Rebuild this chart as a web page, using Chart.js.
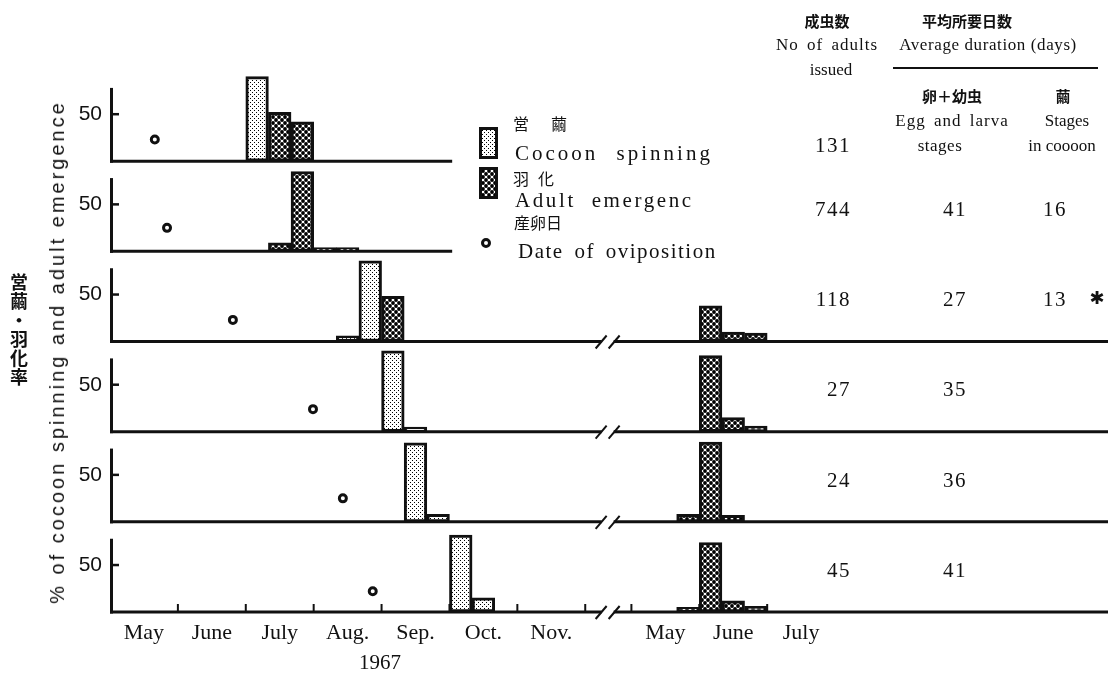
<!DOCTYPE html>
<html>
<head>
<meta charset="utf-8">
<script src="https://cdn.jsdelivr.net/npm/chart.js@4.4.1/dist/chart.umd.min.js"></script>
<style>
  body { margin: 0; background: #fff; }
  #wrap { position: relative; width: 1115px; height: 677px; overflow: hidden; }
  #chart { position: absolute; left: 0; top: 0; }
  .t { position: absolute; white-space: nowrap; color: #111; line-height: 1;
       font-family: "Liberation Serif", "DejaVu Serif", serif; font-size: 17px;
       transform: translate(-50%, -50%); }
  .l { transform: translateY(-50%); font-size: 21px; letter-spacing: 1.5px; }
  .r { transform: translate(-100%, -50%); }
  .jp { font-family: "Noto Sans CJK JP", sans-serif; font-weight: 700; font-size: 15px; }
  .num { font-size: 21px; letter-spacing: 1.5px; }
  .mark { font-family: "DejaVu Sans", sans-serif; font-weight: 700; font-size: 18px; }
</style>
</head>
<body>
<div id="wrap">
  <canvas id="chart" width="1115" height="677"></canvas>

  <!-- axis titles -->
  <div class="t" style="left:57px;top:352px;font-family:'Liberation Sans',sans-serif;font-size:20px;letter-spacing:3px;transform:translate(-50%,-50%) rotate(-90deg)">% of cocoon spinning and adult emergence</div>
  <div class="t jp" style="left:19px;top:330px;font-size:18px;writing-mode:vertical-rl;letter-spacing:1px">営繭・羽化率</div>
  <div class="t" style="left:380px;top:662px;font-size:21px">1967</div>

  <!-- legend -->
  <div class="t jp l" style="left:513px;top:123px;font-size:16px;font-weight:400;letter-spacing:0">営<span style="margin-left:22px">繭</span></div>
  <div class="t l" style="left:515px;top:153px;letter-spacing:3px;word-spacing:10px">Cocoon spinning</div>
  <div class="t jp l" style="left:513px;top:178px;font-size:16px;font-weight:400;letter-spacing:0">羽<span style="margin-left:9px">化</span></div>
  <div class="t l" style="left:515px;top:200px;letter-spacing:2.6px;word-spacing:8px">Adult emergenc</div>
  <div class="t jp l" style="left:514px;top:222px;font-size:16px;font-weight:400;letter-spacing:0">産卵日</div>
  <div class="t l" style="left:518px;top:251px;word-spacing:4px">Date of oviposition</div>

  <!-- table header -->
  <div class="t jp" style="left:827px;top:20px">成虫数</div>
  <div class="t" style="left:827px;top:44px;letter-spacing:1px;word-spacing:3px">No of adults</div>
  <div class="t" style="left:831px;top:69px">issued</div>
  <div class="t jp" style="left:967px;top:20px">平均所要日数</div>
  <div class="t" style="left:988px;top:44px;letter-spacing:0.6px">Average duration (days)</div>
  <div style="position:absolute;left:893px;top:67px;width:205px;height:1.5px;background:#111"></div>
  <div class="t jp" style="left:952px;top:95px">卵＋幼虫</div>
  <div class="t jp" style="left:1063px;top:95px">繭</div>
  <div class="t" style="left:952px;top:120px;letter-spacing:1px;word-spacing:3px">Egg and larva</div>
  <div class="t" style="left:1067px;top:120px">Stages</div>
  <div class="t" style="left:940px;top:145px;letter-spacing:0.5px">stages</div>
  <div class="t" style="left:1062px;top:145px">in coooon</div>
</div>

<script>
// ================= DATA =================
const monthsFirstYear = ['May', 'June', 'July', 'Aug.', 'Sep.', 'Oct.', 'Nov.'];
const monthsNextYear = ['May', 'June', 'July'];
const NEXT_MAY = 7.68;   // x of next year's 1 May, after the axis break
const BREAK_AT = 7.33;

// one list per row: [month index from May, ten-day period 0-2, %]
const cocoonSpinning = [
    [[2, 0, 90]],
    [],
    [[3, 1, 6], [3, 2, 86]],
    [[4, 0, 86], [4, 1, 5]],
    [[4, 1, 84], [4, 2, 8]],
    [[5, 0, 82], [5, 1, 15]]
];
const adultEmergence = [
    [[2, 1, 52], [2, 2, 42]],
    [[2, 1, 9], [2, 2, 85], [3, 0, 4], [3, 1, 4]],
    [[4, 0, 48]],
    [],
    [],
    []
];
const adultEmergenceNextYear = [
    [],
    [],
    [[1, 0, 38], [1, 1, 10], [1, 2, 9]],
    [[1, 0, 81], [1, 1, 15], [1, 2, 6]],
    [[0, 2, 8], [1, 0, 85], [1, 1, 7]],
    [[0, 2, 5], [1, 0, 74], [1, 1, 12], [1, 2, 6]]
];
const ovipositionDate = [0.66, 0.84, 1.81, 2.99, 3.43, 3.87];   // months after 1 May
const ovipositionLevel = [23, 25, 23, 24, 25, 22];

const adultsIssued = [131, 744, 118, 27, 24, 45];
const eggLarvaDays = [null, 41, 27, 35, 36, 41];
const cocoonDays = [null, 16, 13, null, null, null];
const noteMark = [null, null, '✱', null, null, null];

const ROWS = 6;
const Y_MAX = 96;
const AXIS_TOP = 78;

// ================= HELPERS =================
const toPoints = (bins, offset) =>
    bins.map(([m, d, v]) => ({ x: offset + m + (d + 0.5) / 3, y: v }));

function makePattern(size, draw) {
    const c = document.createElement('canvas');
    c.width = size;
    c.height = size;
    const g = c.getContext('2d');
    g.fillStyle = '#fff';
    g.fillRect(0, 0, size, size);
    g.fillStyle = '#000';
    draw(g);
    return g.createPattern(c, 'repeat');
}

const cocoonFill = makePattern(4, g => {
    g.fillRect(0, 0, 1, 1);
    g.fillRect(2, 2, 1, 1);
});
const emergenceFill = makePattern(6, g => {
    [[0, 0], [6, 0], [0, 6], [6, 6], [3, 3]].forEach(([x, y]) => {
        g.beginPath();
        g.arc(x, y, 1.9, 0, Math.PI * 2);
        g.fill();
    });
});

// ================= DATASETS =================
const datasets = [];
for (let i = 0; i < ROWS; i++) {
    datasets.push({
        type: 'bar',
        data: toPoints(cocoonSpinning[i], 0),
        yAxisID: 'y' + i,
        backgroundColor: cocoonFill,
        borderColor: '#111',
        borderWidth: 3,
        borderSkipped: false
    });
    datasets.push({
        type: 'bar',
        data: toPoints(adultEmergence[i], 0).concat(toPoints(adultEmergenceNextYear[i], NEXT_MAY)),
        yAxisID: 'y' + i,
        backgroundColor: emergenceFill,
        borderColor: '#111',
        borderWidth: 3,
        borderSkipped: false
    });
    datasets.push({
        type: 'scatter',
        data: [{ x: ovipositionDate[i], y: ovipositionLevel[i] }],
        yAxisID: 'y' + i,
        pointRadius: 3.5,
        borderWidth: 3,
        borderColor: '#111',
        backgroundColor: '#fff'
    });
}

// ================= SCALES =================
const tickCenters = monthsFirstYear.map((_, i) => i + 0.5)
    .concat(monthsNextYear.map((_, i) => NEXT_MAY + i + 0.5));
const tickLabels = monthsFirstYear.concat(monthsNextYear);

const scales = {
    x: {
        type: 'linear',
        position: 'bottom',
        offset: false,
        min: 0,
        max: 14.7,
        grid: { display: false, drawTicks: false, offset: false },
        border: { display: false },
        afterBuildTicks: s => { s.ticks = tickCenters.map(v => ({ value: v })); },
        afterFit: s => { s.height = 65; },
        ticks: {
            autoSkip: false,
            maxRotation: 0,
            padding: 8,
            color: '#111',
            font: { family: 'Liberation Serif', size: 22 },
            callback: (v, i) => tickLabels[i]
        }
    }
};
for (let i = 0; i < ROWS; i++) {
    scales['y' + i] = {
        type: 'linear',
        position: 'left',
        stack: 'rows',
        stackWeight: 1,
        weight: ROWS - i,
        min: 0,
        max: Y_MAX,
        grid: { display: false, drawTicks: false },
        border: { display: false },
        afterBuildTicks: s => { s.ticks = [{ value: 50 }]; },
        afterFit: s => { s.width = 110; },
        ticks: {
            padding: 8,
            color: '#111',
            font: { family: 'Liberation Sans', size: 21 }
        }
    };
}

// ================= AXES / LEGEND DRAWING =================
function line(ctx, x1, y1, x2, y2) {
    ctx.beginPath();
    ctx.moveTo(x1, y1);
    ctx.lineTo(x2, y2);
    ctx.stroke();
}

const framePlugin = {
    id: 'frame',
    beforeDatasetsDraw(chart) {
        // month ticks on the bottom row
        const ctx = chart.ctx;
        const x = chart.scales.x;
        const base = chart.scales['y' + (ROWS - 1)].getPixelForValue(0);
        ctx.save();
        ctx.strokeStyle = '#111';
        ctx.lineWidth = 2;
        const marks = [1, 2, 3, 4, 5, 6, 7, NEXT_MAY, NEXT_MAY + 1, NEXT_MAY + 2];
        marks.forEach(m => {
            const px = x.getPixelForValue(m);
            line(ctx, px, base, px, base - 8);
        });
        ctx.restore();
    },
    afterDatasetsDraw(chart) {
        const ctx = chart.ctx;
        const x = chart.scales.x;
        const left = chart.chartArea.left;
        const right = chart.chartArea.right;
        ctx.save();
        ctx.strokeStyle = '#111';
        ctx.lineCap = 'butt';
        for (let i = 0; i < ROWS; i++) {
            const y = chart.scales['y' + i];
            const base = y.getPixelForValue(0);
            ctx.lineWidth = 3;
            line(ctx, left + 1.5, base + 1.5, left + 1.5, y.getPixelForValue(AXIS_TOP));
            ctx.lineWidth = 2.5;
            line(ctx, left, y.getPixelForValue(50), left + 9, y.getPixelForValue(50));
            ctx.lineWidth = 3;
            if (i < 2) {
                line(ctx, left, base, x.getPixelForValue(5.04), base);
            } else {
                const b = x.getPixelForValue(BREAK_AT);
                line(ctx, left, base, b - 6, base);
                line(ctx, b + 6, base, right, base);
                ctx.lineWidth = 2;
                line(ctx, b - 12, base + 7, b - 1, base - 6);
                line(ctx, b + 1, base + 7, b + 12, base - 6);
            }
        }

        // legend swatches
        [[cocoonFill, 127], [emergenceFill, 167]].forEach(([fill, top]) => {
            ctx.fillStyle = fill;
            ctx.fillRect(479, top, 19, 32);
            ctx.lineWidth = 3;
            ctx.strokeRect(480.5, top + 1.5, 16, 29);
        });
        ctx.fillStyle = '#fff';
        ctx.lineWidth = 3;
        ctx.beginPath();
        ctx.arc(486, 243, 3.5, 0, Math.PI * 2);
        ctx.fill();
        ctx.stroke();
        ctx.restore();
    }
};

// ================= CHART =================
const chart = new Chart(document.getElementById('chart'), {
    type: 'bar',
    data: { datasets },
    plugins: [framePlugin],
    options: {
        responsive: false,
        animation: false,
        devicePixelRatio: 1,
        layout: { padding: { top: 71, right: 5, left: 0, bottom: 0 } },
        datasets: {
            bar: { grouped: false, barPercentage: 1, categoryPercentage: 1 }
        },
        plugins: {
            legend: { display: false },
            tooltip: { enabled: false }
        },
        scales
    }
});

// ================= TABLE =================
const wrap = document.getElementById('wrap');
function addText(text, cls, left, top) {
    const el = document.createElement('div');
    el.className = cls;
    el.textContent = text;
    el.style.left = left + 'px';
    el.style.top = top + 'px';
    wrap.appendChild(el);
}
for (let i = 0; i < ROWS; i++) {
    const top = chart.scales['y' + i].getPixelForValue(i === 0 ? 17 : 45);
    addText(adultsIssued[i], 't num r', 851, top);
    if (eggLarvaDays[i] !== null) addText(eggLarvaDays[i], 't num', 955, top);
    if (cocoonDays[i] !== null) addText(cocoonDays[i], 't num', 1055, top);
    if (noteMark[i]) addText(noteMark[i], 't mark', 1097, top - 1);
}
</script>
</body>
</html>
